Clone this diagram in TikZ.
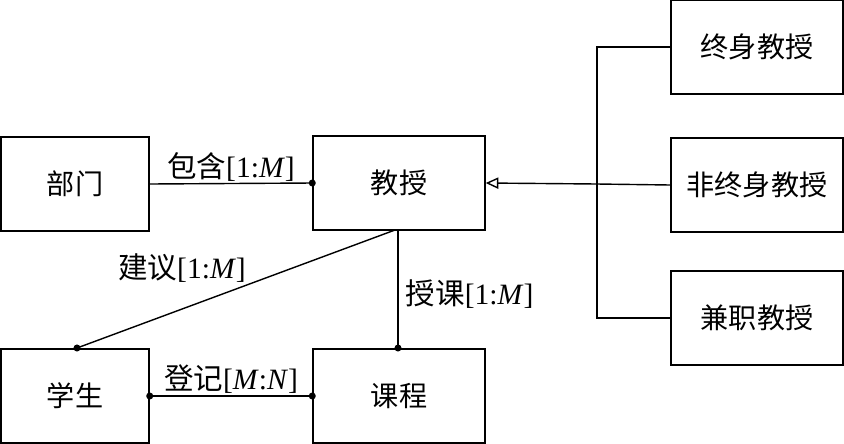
\documentclass[tikz,border=0pt]{standalone}
\usepackage{fontspec}
\setmainfont{Liberation Serif}
\newfontfamily\cjk{Noto Sans CJK SC}
\usetikzlibrary{arrows.meta}
\tikzset{
	entity/.style={draw, line width=1pt, minimum width=4.3cm, minimum height=2.35cm,
		font=\fontsize{20}{24}\selectfont\cjk},
	link/.style={line width=1pt},
	lbl/.style={font=\fontsize{21}{25}\selectfont, inner sep=1pt},
	dot/.style={circle, fill, inner sep=0pt, minimum size=5pt}
}
\begin{document}
\begin{tikzpicture}[x=0.025cm, y=-0.025cm]
\useasboundingbox (0,0) rectangle (844,443);

% Entities
\node[entity, minimum width=3.7cm] (Dept) at (75,184) {部门};
\node[entity] (Prof) at (399,183) {教授};
\node[entity] (Tenured) at (757,47) {终身教授};
\node[entity] (NonTenured) at (757,185) {非终身教授};
\node[entity] (PartTime) at (757,318) {兼职教授};
\node[entity, minimum width=3.7cm] (Student) at (75,396) {学生};
\node[entity] (Course) at (399,396) {课程};

% Relationships
\draw[link] (Dept.east) -- node[lbl, above] {{\cjk 包含}[1:\textit{M}]} (Prof.west);
\node[dot] at (Prof.west) {};

\coordinate (ProfB) at (395,230);
\coordinate (StudT) at (77,348);
\draw[link] (ProfB) -- (StudT);
\node[dot] at (StudT) {};
\node[lbl] (Advise) at (182,268) {{\cjk 建议}[1:\textit{M}]};

\coordinate (ProfC) at (398,230);
\coordinate (CourseT) at (398,348);
\draw[link] (ProfC) -- (CourseT);
\node[dot] at (CourseT) {};
\node[lbl, right] (Teach) at (404,294) {{\cjk 授课}[1:\textit{M}]};

\draw[link] (Student.east) -- node[lbl, above] {{\cjk 登记}[\textit{M}:\textit{N}]} (Course.west);
\node[dot] at (Student.east) {};
\node[dot] at (Course.west) {};

% Generalization
\coordinate (Hub) at (597,184);
\draw[link, -{Triangle[open, length=9pt, width=8pt]}] (Hub) -- (Prof.east);
\draw[link] (Tenured.west) -| (Hub);
\draw[link] (PartTime.west) -| (Hub);
\draw[link] (NonTenured.west) -- (Hub);
\end{tikzpicture}
\end{document}
